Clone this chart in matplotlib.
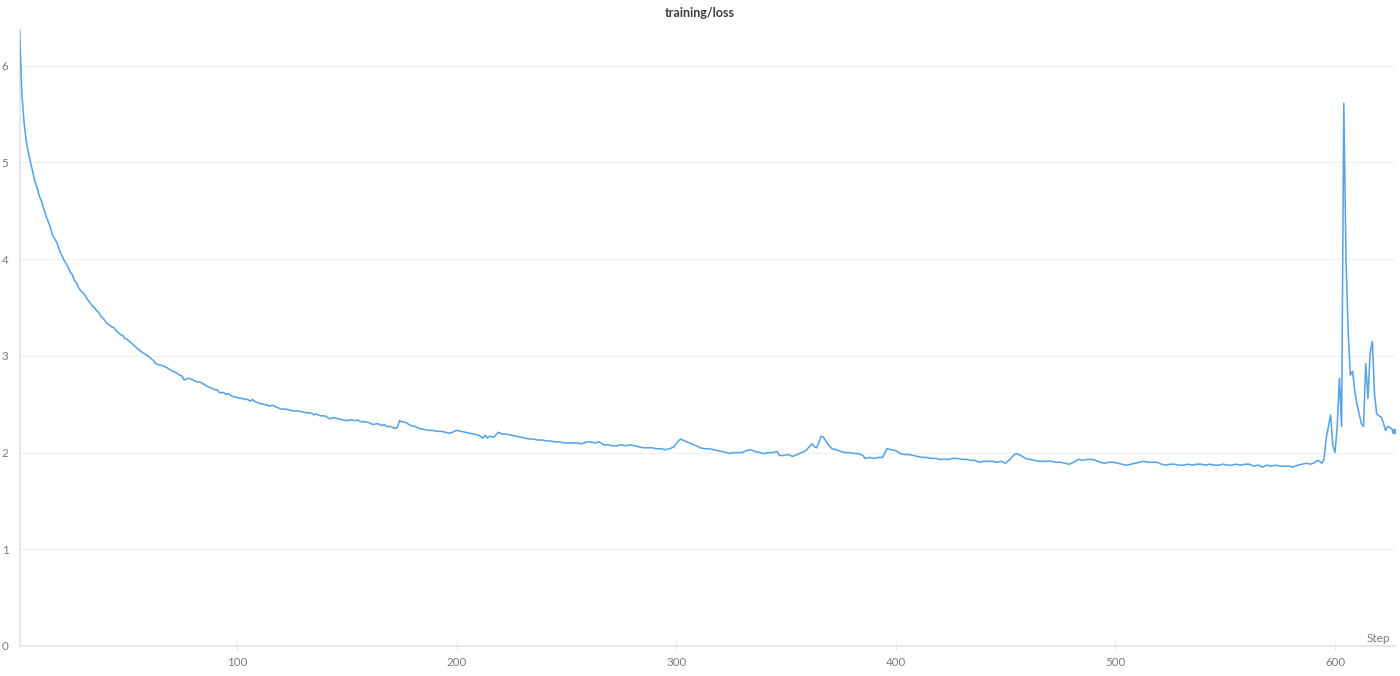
import matplotlib
matplotlib.use("Agg")
import matplotlib.pyplot as plt

plt.rcParams['font.family'] = ['Lato', 'DejaVu Sans']

title = "training/loss"
x_label = "Step"
y_ticks = [0, 1, 2, 3, 4, 5, 6]
x_ticks = [100, 200, 300, 400, 500, 600]

steps = [
    1, 2, 3, 4, 5, 6, 7, 8, 9, 10, 11, 12, 13, 14, 15, 16, 17, 18, 19, 20,
    21, 22, 23, 24, 25, 26, 27, 28, 29, 30, 31, 32, 33, 34, 35, 36, 37, 38, 39, 40,
    41, 42, 43, 44, 45, 46, 47, 48, 49, 50, 52, 54, 56, 58, 60, 61, 62, 63, 64, 66,
    67, 68, 70, 72, 74, 75, 76, 77, 78, 80, 82, 83, 84, 86, 88, 90, 91, 92, 94, 95,
    96, 98, 100, 102, 104, 105, 106, 107, 108, 110, 112, 114, 115, 116, 118, 120, 122, 124, 126, 128,
    130, 132, 134, 135, 136, 138, 140, 142, 144, 146, 148, 150, 152, 154, 155, 156, 158, 160, 162, 164,
    166, 167, 168, 170, 172, 173, 174, 175, 177, 179, 181, 183, 185, 187, 189, 191, 193, 195, 197, 199,
    200, 202, 204, 206, 208, 210, 212, 213, 214, 215, 217, 219, 221, 223, 225, 227, 229, 231, 233, 235,
    237, 239, 241, 243, 245, 247, 249, 251, 253, 255, 257, 259, 261, 263, 265, 267, 269, 271, 273, 275,
    277, 279, 281, 283, 285, 287, 289, 291, 293, 295, 297, 299, 301, 302, 303, 305, 307, 309, 311, 313,
    315, 317, 319, 321, 323, 324, 326, 328, 330, 332, 334, 336, 338, 340, 342, 344, 346, 347, 349, 351,
    353, 355, 357, 359, 361, 362, 363, 364, 366, 367, 369, 371, 373, 375, 377, 379, 381, 383, 385, 386,
    388, 390, 392, 394, 396, 398, 400, 402, 404, 406, 408, 410, 412, 414, 416, 418, 420, 422, 424, 426,
    428, 430, 432, 434, 436, 438, 440, 442, 444, 446, 448, 450, 452, 454, 455, 457, 459, 461, 463, 465,
    467, 469, 471, 473, 475, 477, 479, 481, 483, 485, 487, 489, 491, 493, 495, 497, 499, 501, 503, 505,
    507, 509, 511, 513, 515, 517, 519, 521, 523, 525, 527, 529, 531, 533, 535, 537, 539, 541, 543, 545,
    547, 549, 551, 553, 555, 557, 559, 561, 563, 565, 567, 569, 571, 573, 575, 577, 579, 581, 583, 585,
    587, 589, 591, 592, 593, 594, 595, 596, 598, 599, 600, 601, 602, 603, 604, 605, 606, 607, 608, 609,
    610, 611, 612, 613, 614, 615, 616, 617, 618, 619, 620, 621, 622, 623, 624, 625, 626, 627,
]

loss = [
    6.37, 5.72, 5.42, 5.22, 5.10, 5.00, 4.90, 4.80, 4.74, 4.65, 4.60, 4.52, 4.45, 4.39, 4.33, 4.25, 4.21, 4.17, 4.10, 4.05,
    4.00, 3.96, 3.92, 3.87, 3.84, 3.78, 3.75, 3.70, 3.67, 3.65, 3.62, 3.58, 3.55, 3.52, 3.50, 3.47, 3.45, 3.41, 3.39, 3.36,
    3.33, 3.32, 3.30, 3.29, 3.26, 3.24, 3.22, 3.21, 3.18, 3.17, 3.13, 3.09, 3.05, 3.02, 2.99, 2.97, 2.95, 2.92, 2.91, 2.90,
    2.89, 2.88, 2.85, 2.83, 2.80, 2.79, 2.75, 2.76, 2.77, 2.75, 2.73, 2.73, 2.72, 2.69, 2.67, 2.65, 2.65, 2.62, 2.62, 2.60,
    2.61, 2.58, 2.57, 2.56, 2.55, 2.55, 2.53, 2.55, 2.53, 2.51, 2.50, 2.49, 2.48, 2.49, 2.47, 2.45, 2.45, 2.44, 2.43, 2.43,
    2.42, 2.41, 2.41, 2.39, 2.40, 2.38, 2.38, 2.35, 2.36, 2.35, 2.34, 2.33, 2.34, 2.33, 2.34, 2.32, 2.32, 2.31, 2.29, 2.30,
    2.28, 2.29, 2.27, 2.27, 2.25, 2.26, 2.33, 2.32, 2.31, 2.28, 2.27, 2.25, 2.24, 2.23, 2.23, 2.22, 2.22, 2.21, 2.20, 2.22,
    2.23, 2.22, 2.21, 2.20, 2.19, 2.18, 2.15, 2.18, 2.15, 2.17, 2.16, 2.21, 2.19, 2.19, 2.18, 2.17, 2.16, 2.15, 2.14, 2.14,
    2.13, 2.13, 2.12, 2.12, 2.11, 2.11, 2.10, 2.10, 2.10, 2.10, 2.09, 2.11, 2.11, 2.10, 2.11, 2.08, 2.08, 2.07, 2.07, 2.08,
    2.07, 2.08, 2.07, 2.06, 2.05, 2.05, 2.05, 2.04, 2.04, 2.03, 2.04, 2.06, 2.12, 2.14, 2.13, 2.11, 2.09, 2.07, 2.05, 2.04,
    2.04, 2.03, 2.02, 2.01, 2.00, 1.99, 2.00, 2.00, 2.00, 2.02, 2.03, 2.01, 2.00, 1.99, 2.00, 2.00, 2.01, 1.97, 1.97, 1.98,
    1.96, 1.98, 2.00, 2.02, 2.07, 2.09, 2.06, 2.05, 2.17, 2.16, 2.09, 2.04, 2.03, 2.01, 2.00, 2.00, 1.99, 1.99, 1.97, 1.94,
    1.95, 1.94, 1.95, 1.95, 2.04, 2.03, 2.02, 1.99, 1.98, 1.98, 1.97, 1.96, 1.95, 1.95, 1.94, 1.94, 1.93, 1.93, 1.93, 1.94,
    1.94, 1.93, 1.93, 1.92, 1.92, 1.90, 1.91, 1.91, 1.91, 1.90, 1.91, 1.89, 1.93, 1.98, 1.99, 1.97, 1.94, 1.93, 1.92, 1.91,
    1.91, 1.91, 1.91, 1.90, 1.90, 1.89, 1.88, 1.90, 1.93, 1.92, 1.93, 1.93, 1.92, 1.90, 1.89, 1.90, 1.90, 1.89, 1.88, 1.87,
    1.88, 1.89, 1.90, 1.91, 1.90, 1.90, 1.90, 1.88, 1.87, 1.88, 1.88, 1.87, 1.87, 1.88, 1.87, 1.88, 1.88, 1.87, 1.88, 1.87,
    1.87, 1.88, 1.87, 1.87, 1.88, 1.87, 1.88, 1.88, 1.86, 1.87, 1.85, 1.87, 1.86, 1.87, 1.86, 1.86, 1.86, 1.85, 1.87, 1.88,
    1.89, 1.88, 1.90, 1.92, 1.91, 1.89, 1.93, 2.15, 2.39, 2.08, 2.00, 2.27, 2.77, 2.27, 5.61, 4.00, 3.25, 2.80, 2.84, 2.64,
    2.50, 2.40, 2.30, 2.27, 2.92, 2.56, 3.03, 3.15, 2.60, 2.40, 2.38, 2.37, 2.31, 2.23, 2.27, 2.26, 2.24, 2.22,
]

line_color = "#58A4E6"
grid_color = "#F0F0F0"
spine_color = "#E3E3E3"
tick_text = "#7A7A7A"

fig = plt.figure(figsize=(14, 6.76), dpi=100)
ax = fig.add_axes([19.6 / 1400, 30 / 676, (1395.4 - 19.6) / 1400, (646 - 30) / 676])

ax.plot(steps, loss, color=line_color, linewidth=1.15, solid_joinstyle='round', zorder=3)
ax.plot(steps[-1:], loss[-1:], 'o', color=line_color, markersize=3, zorder=4)

ax.set_xlim(1, 627.5)
ax.set_ylim(0, 6.37)
ax.set_yticks(y_ticks)
ax.set_xticks(x_ticks)
ax.set_yticklabels([str(v) for v in y_ticks])
ax.set_xticklabels([str(v) for v in x_ticks])

ax.grid(axis='y', color=grid_color, linewidth=0.9, zorder=0)
ax.grid(axis='x', visible=False)
ax.set_axisbelow(True)

for s in ('top', 'right'):
    ax.spines[s].set_visible(False)
for s in ('left', 'bottom'):
    ax.spines[s].set_color(spine_color)
    ax.spines[s].set_linewidth(1.2)

ax.tick_params(axis='y', length=0, pad=8, labelsize=8.3, labelcolor=tick_text)
ax.tick_params(axis='x', direction='inout', length=6, width=0.8, color=spine_color,
               pad=5, labelsize=8.3, labelcolor=tick_text)

fig.text(0.5, 1 - 13 / 676, title, ha='center', va='center', fontsize=9,
         fontweight='bold', color='#3D3D3D')
fig.text(1390 / 1400, 1 - 639 / 676, x_label, ha='right', va='center',
         fontsize=8.5, color=tick_text)

fig.savefig("out.png", dpi=100, facecolor='white')
